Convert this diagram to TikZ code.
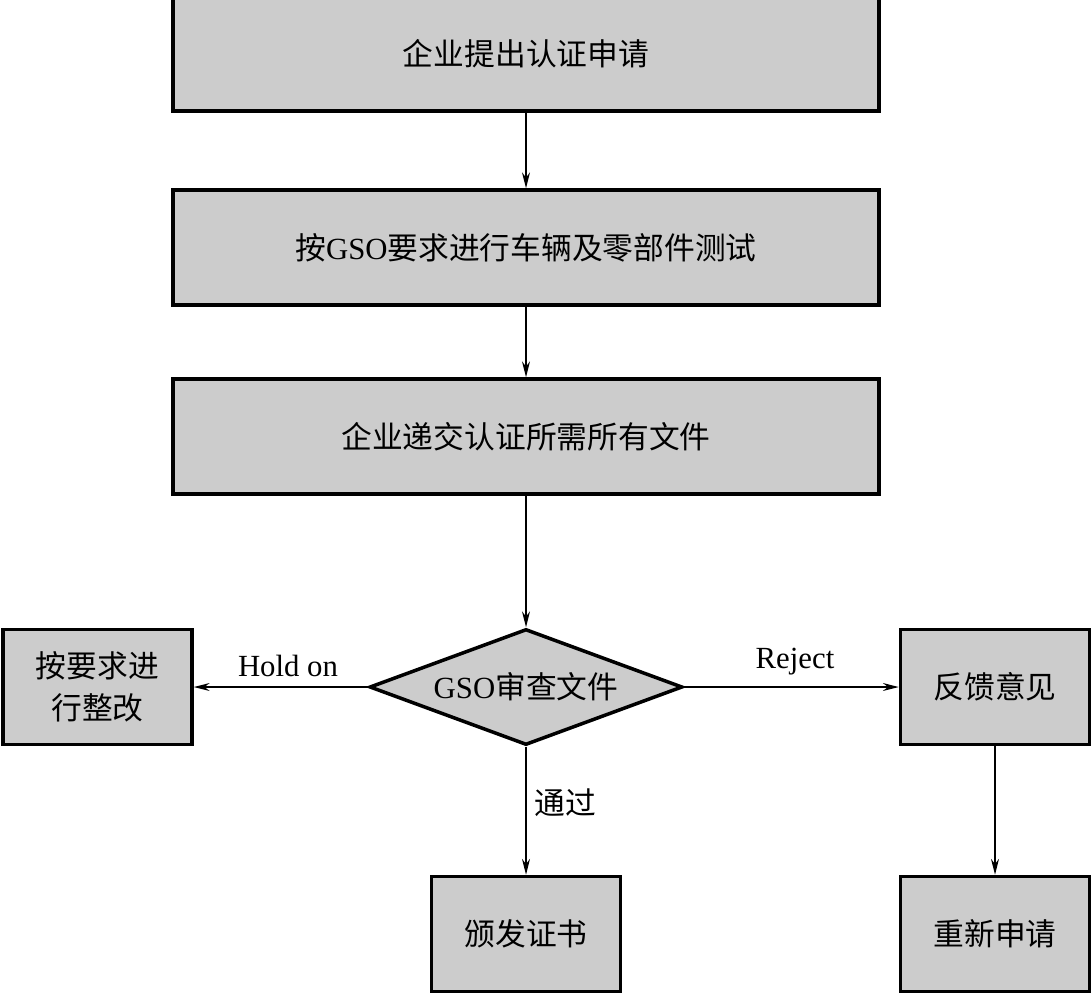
\documentclass[tikz,border=0pt]{standalone}
\usepackage{fontspec}
\setmainfont{Liberation Serif}
\newfontfamily\cjk{Noto Sans CJK SC}
\usepackage{tikz}
\usetikzlibrary{arrows.meta,shapes.geometric}
\usepackage{xcolor}
\definecolor{boxgray}{HTML}{CCCCCC}

\begin{document}
\begin{tikzpicture}[>={Stealth[length=9pt,width=4.5pt]},
  font=\cjk\fontsize{17.5}{24}\selectfont,
  stepbox/.style={draw,line width=2pt,fill=boxgray,minimum width=14.12cm,minimum height=2.3cm},
  sidebox/.style={draw,line width=2pt,fill=boxgray,minimum width=3.78cm,minimum height=2.3cm,align=center},
  checkbox/.style={draw,line width=2pt,fill=boxgray,diamond,aspect=2.7,inner sep=0pt,minimum width=6.26cm,minimum height=2.32cm},
  flow/.style={->,line width=0.9pt}]
  \useasboundingbox (0,0) rectangle (21.82,-19.88);
  \clip (0,0) rectangle (21.82,-19.88);
  % upper chain
  \node[stepbox] (apply) at (10.52,-1.07) {企业提出认证申请};
  \node[stepbox] (test) at (10.52,-4.95) {按{\rmfamily GSO}要求进行车辆及零部件测试};
  \node[stepbox] (docs) at (10.52,-8.73) {企业递交认证所需所有文件};
  \node[checkbox] (check) at (10.52,-13.74) {{\rmfamily GSO}审查文件};
  % outcomes
  \node[sidebox] (fix) at (1.95,-13.74) {按要求进\\行整改};
  \node[sidebox] (feedback) at (19.90,-13.74) {反馈意见};
  \node[sidebox] (cert) at (10.52,-18.68) {颁发证书};
  \node[sidebox] (reapply) at (19.90,-18.68) {重新申请};
  \draw[flow] (apply) -- (test);
  \draw[flow] (test) -- (docs);
  \draw[flow] (docs) -- (check);
  \draw[flow] (check.west) -- (fix.east);
  \draw[flow] (check.east) -- (feedback.west);
  \draw[flow] (check.south) -- (cert.north);
  \draw[flow] (feedback) -- (reapply);
  \node[font=\rmfamily\fontsize{17.5}{24}\selectfont] (hold) at (5.76,-13.32) {Hold on};
  \node[font=\rmfamily\fontsize{17.5}{24}\selectfont] (reject) at (15.9,-13.24) {Reject};
  \node (pass) at (11.3,-16.06) {通过};
\end{tikzpicture}
\end{document}
